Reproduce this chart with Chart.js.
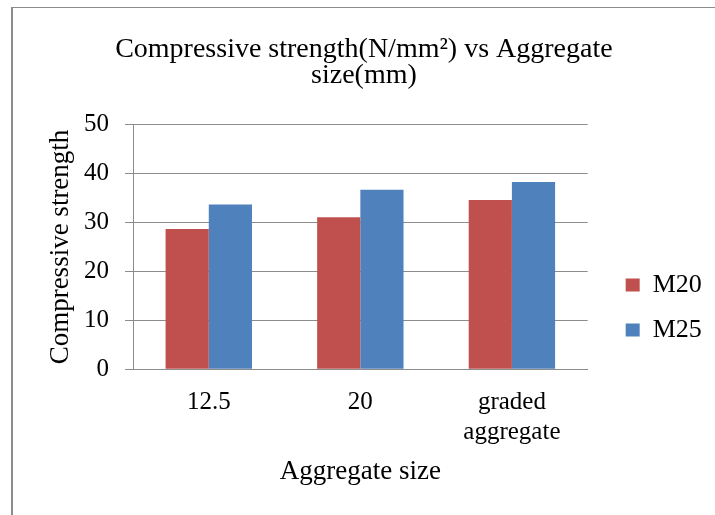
<!DOCTYPE html>
<html>
<head>
<meta charset="utf-8">
<script src="https://cdn.jsdelivr.net/npm/chart.js@4"></script>
<style>
  html, body { margin: 0; padding: 0; background: #fff; overflow: hidden; }
  #wrap { position: relative; width: 715px; height: 515px; }
  #frame { position: absolute; left: 11px; top: 7px; right: -5px; bottom: -5px;
           border-left: 2px solid #8c8c8c; border-top: 1px solid #8c8c8c; }
  canvas { position: absolute; left: 0; top: 0; }
</style>
</head>
<body>
<div id="wrap">
  <div id="frame"></div>
  <canvas id="c" width="715" height="515"></canvas>
</div>
<script>
const titleLines = ['Compressive strength(N/mm\u00B2) vs Aggregate', 'size(mm)'];
const categories = ['12.5', '20', ['graded', 'aggregate']];
const seriesNames = ['M20', 'M25'];
const m20Values = [28.7, 31.1, 34.6];
const m25Values = [33.7, 36.7, 38.3];
const yTickValues = [0, 10, 20, 30, 40, 50];
const xAxisTitle = 'Aggregate size';
const yAxisTitle = 'Compressive strength';

const FONT = "'Liberation Serif', 'Times New Roman', serif";
const GRID = '#8c8c8c';

Chart.defaults.font.family = FONT;
Chart.defaults.color = '#000';

new Chart(document.getElementById('c'), {
  type: 'bar',
  data: {
    labels: categories,
    datasets: [
      { label: seriesNames[0], data: m20Values, backgroundColor: '#C0504D', borderWidth: 0,
        categoryPercentage: 0.57, barPercentage: 1.0 },
      { label: seriesNames[1], data: m25Values, backgroundColor: '#4F81BD', borderWidth: 0,
        categoryPercentage: 0.57, barPercentage: 1.0 }
    ]
  },
  options: {
    responsive: false,
    devicePixelRatio: 1,
    animation: false,
    layout: { padding: { left: 16, right: 3.2, top: 0, bottom: 26.8 } },
    plugins: {
      title: {
        display: true,
        text: titleLines,
        color: '#000',
        font: { family: FONT, size: 28, weight: 'normal', lineHeight: 26 / 28 },
        padding: { top: 37, bottom: 35.7 }
      },
      legend: {
        display: true,
        position: 'right',
        align: 'start',
        title: { display: true, text: '', padding: { top: 238.6, bottom: 0 }, font: { size: 12 } },
        labels: {
          boxWidth: 14,
          boxHeight: 13,
          padding: 19,
          color: '#000',
          font: { family: FONT, size: 26 }
        }
      },
      tooltip: { enabled: false }
    },
    scales: {
      x: {
        grid: { display: false, drawTicks: false },
        border: { display: true, color: GRID, width: 1 },
        ticks: { color: '#000', padding: 18, font: { family: FONT, size: 25 }, maxRotation: 0 },
        title: {
          display: true, text: xAxisTitle, color: '#000',
          font: { family: FONT, size: 27 }, padding: { top: -9.5, bottom: 0 }
        }
      },
      y: {
        min: 0, max: 50,
        afterBuildTicks: (s) => { s.ticks = yTickValues.map(v => ({ value: v })); },
        afterFit: (s) => { s.width = 117; },
        grid: { color: GRID, lineWidth: 1, drawTicks: true, tickLength: 8, tickColor: GRID },
        border: { display: true, color: GRID, width: 1 },
        ticks: { color: '#000', padding: 16, font: { family: FONT, size: 25 } },
        title: {
          display: true, text: yAxisTitle, color: '#000',
          font: { family: FONT, size: 27 }, padding: { top: 28.8, bottom: 0 }
        }
      },
      gap: {
        type: 'linear',
        position: 'right',
        display: true,
        afterFit: (s) => { s.width = 19; },
        grid: { display: false },
        border: { display: false },
        ticks: { display: false }
      }
    }
  }
});
</script>
</body>
</html>
